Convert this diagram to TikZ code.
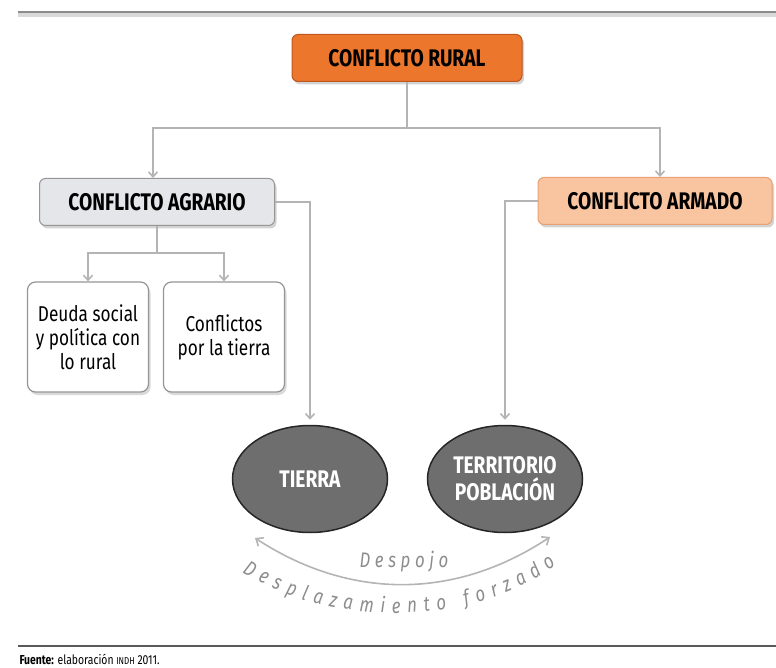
\documentclass[tikz,border=0pt]{standalone}
\usepackage{fontspec}
\setmainfont{Fira Sans}[FakeStretch=0.8]
\usepackage{xcolor}
\definecolor{crorange}{RGB}{236,118,44}
\definecolor{crorangedk}{RGB}{190,86,30}
\definecolor{crpeach}{RGB}{249,196,160}
\definecolor{crpeachdk}{RGB}{232,160,116}
\definecolor{crgrey}{RGB}{228,230,234}
\definecolor{crgreydk}{RGB}{150,150,150}
\definecolor{crline}{RGB}{180,180,180}
\definecolor{crdark}{RGB}{110,110,110}
\definecolor{crtext}{RGB}{140,140,140}
\usetikzlibrary{shapes.geometric,arrows.meta,positioning,calc,shadows,decorations.text}
\tikzset{
  head/.style={draw, rounded corners=6pt, line width=1pt, align=center, minimum height=47pt, font=\fontsize{24}{28}\selectfont\bfseries, drop shadow={shadow xshift=2pt, shadow yshift=-3pt, opacity=0.35}},
  subbox/.style={draw=crgreydk, fill=white, rounded corners=8pt, line width=1.2pt, align=center, minimum width=121pt, minimum height=110pt, font=\fontsize{21.5}{24}\selectfont, drop shadow={shadow xshift=2pt, shadow yshift=-3pt, opacity=0.3}},
  blob/.style={draw=black!85, fill=crdark, ellipse, line width=1.5pt, minimum width=155pt, minimum height=107pt, inner sep=0pt, align=center, text=white, font=\fontsize{24}{27}\selectfont\bfseries},
  conn/.style={draw=crline, line width=1.6pt},
  arr/.style={conn, -{Straight Barb[length=5pt,width=9pt]}},
  arrboth/.style={conn, {Straight Barb[length=6pt,width=10pt]}-{Straight Barb[length=6pt,width=10pt]}}
}

\begin{document}
\begin{tikzpicture}[x=1pt, y=-1pt]
  \useasboundingbox (0,0) rectangle (776,668);
  % rules top and bottom
  \draw[line width=4pt, black!15] (18,15) -- (776,15);
  \draw[line width=2.5pt, black!45] (18,12) -- (776,12);
  \draw[line width=2pt, black!65] (18,646) -- (776,646);

  \node[head, fill=crorange, draw=crorangedk, minimum width=230pt] (rural) at (407,58) {CONFLICTO RURAL};
  \node[head, fill=crgrey, draw=crgreydk, minimum width=235pt] (agrario) at (157,202) {CONFLICTO AGRARIO};
  \node[head, fill=crpeach, draw=crpeachdk, minimum width=234pt] (armado) at (655,201) {CONFLICTO ARMADO};
  \node[subbox] (deuda) at (88,337) {Deuda social\\y política con\\lo rural};
  \node[subbox] (luchas) at (224,337) {Conflictos\\por la tierra};
  \node[blob] (tierra) at (310,479) {TIERRA};
  \node[blob] (territorio) at (505,479) {TERRITORIO\\POBLACIÓN};

  \coordinate (ruralsplit) at ($(rural.south)+(0,46)$);
  \coordinate (agrariosplit) at ($(agrario.south)+(0,27)$);
  \draw[conn] (rural.south) -- (ruralsplit);
  \draw[arr] (ruralsplit) -| ([xshift=-4pt]agrario.north);
  \draw[arr] (ruralsplit) -| ([xshift=5pt]armado.north);
  \draw[conn] (agrario.south) -- (agrariosplit);
  \draw[arr] (agrariosplit) -| (deuda.north);
  \draw[arr] (agrariosplit) -| (luchas.north);
  \draw[arr, shorten >=5pt] (agrario.east) -| (tierra.north);
  \draw[arr, shorten >=5pt] (armado.west) -| (territorio.north);

  % despojo arc
  \coordinate (despL) at (255,538);
  \coordinate (despR) at (550,537);
  \draw[arrboth] (despL) .. controls (350,600) and (455,600) .. (despR);
  \node[text=crtext, font=\fontsize{21}{24}\selectfont\itshape\addfontfeature{LetterSpace=22}] (despojo) at (404,562) {Despojo};
  \path[decorate, decoration={text along path, text align=fit to path,
      text={|\color{crtext}\fontsize{21}{24}\selectfont\itshape|Desplazamiento forzado}}]
    (242,572) .. controls (330,628) and (470,628) .. (556,565);

  \node[anchor=west, font=\fontsize{13}{14}\selectfont] (fuente) at (16,659) {\textbf{Fuente:} elaboración {\fontsize{10}{11}\selectfont INDH} 2011.};
\end{tikzpicture}
\end{document}
